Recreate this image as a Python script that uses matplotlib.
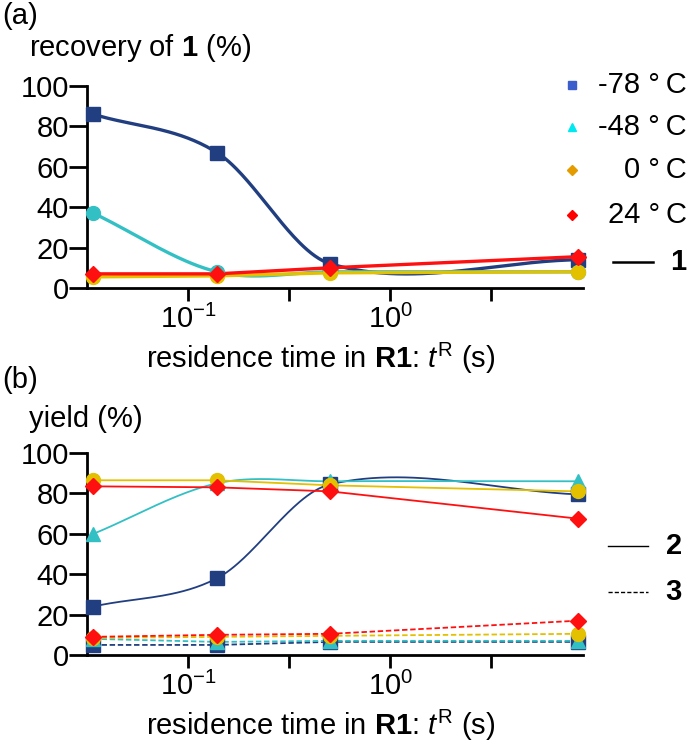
import numpy as np
import matplotlib.pyplot as plt
from matplotlib.lines import Line2D

plt.rcParams['font.family'] = ['Liberation Sans', 'DejaVu Sans']
plt.rcParams['mathtext.fontset'] = 'custom'
plt.rcParams['mathtext.rm'] = 'Liberation Sans'
plt.rcParams['mathtext.it'] = 'Liberation Sans:italic'
plt.rcParams['mathtext.bf'] = 'Liberation Sans:bold'

# residence times (s)
t_res = [0.034, 0.139, 0.505, 8.5]

temps = ['-78 °\u2009C', '-48 °\u2009C', '0 °\u2009C', '24 °\u2009C']
colors = ['#213f80', '#33c0c4', '#e3c000', '#ff1010']
legend_colors = ['#3a5fcd', '#00e8f0', '#e39b00', '#ff0000']

# (a) recovery of 1 (%)
rec_m78 = [86, 67, 12, 14]
rec_m48 = [37, 8, 8, 8]
rec_0 = [5.5, 6, 7.5, 8]
rec_24 = [7, 7, 10, 15.5]

# (b) yield of 2 (%)
y2_m78 = [24, 38, 84.5, 79.5]
y2_m48 = [60, 85, 86, 86]
y2_0 = [86.5, 86.5, 84, 81]
y2_24 = [83.5, 83, 81, 67.5]

# (b) yield of 3 (%)
y3_m78 = [5, 5, 6.5, 6.5]
y3_m48 = [8, 6.5, 7, 7]
y3_0 = [8.5, 9, 9.5, 10.5]
y3_24 = [9, 10, 10.5, 17]


def smooth(x, y, n=60):
    # cubic Hermite (Catmull-Rom style) curve through the points, in log10(x)
    lx = np.log10(x)
    y = np.asarray(y, float)
    k = len(lx)
    m = np.empty(k)
    m[0] = (y[1] - y[0]) / (lx[1] - lx[0])
    m[-1] = (y[-1] - y[-2]) / (lx[-1] - lx[-2])
    for i in range(1, k - 1):
        m[i] = (y[i + 1] - y[i - 1]) / (lx[i + 1] - lx[i - 1])
    xs_all, ys_all = [], []
    for i in range(k - 1):
        h = lx[i + 1] - lx[i]
        s = np.linspace(0, 1, n)
        h00 = 2 * s ** 3 - 3 * s ** 2 + 1
        h10 = s ** 3 - 2 * s ** 2 + s
        h01 = -2 * s ** 3 + 3 * s ** 2
        h11 = s ** 3 - s ** 2
        xs_all.append(lx[i] + s * h)
        ys_all.append(h00 * y[i] + h10 * h * m[i] + h01 * y[i + 1] + h11 * h * m[i + 1])
    return 10 ** np.concatenate(xs_all), np.concatenate(ys_all)


fig = plt.figure(figsize=(6.91, 7.43), dpi=100)
ax1 = fig.add_axes([0.126, 0.6124, 0.718, 0.2719])
ax2 = fig.add_axes([0.126, 0.1184, 0.718, 0.2719])

fs = 21

for ax in (ax1, ax2):
    ax.set_xscale('log')
    ax.set_xlim(10 ** -1.5, 10 ** 0.955)
    ax.set_ylim(0, 100)
    ax.spines['top'].set_visible(False)
    ax.spines['right'].set_visible(False)
    ax.spines['left'].set_linewidth(2)
    ax.spines['bottom'].set_linewidth(2)
    ax.set_xticks([10 ** -1, 10 ** -0.5, 1, 10 ** 0.5])
    ax.set_xticklabels([r'$10^{-1}$', '', r'$10^{0}$', ''])
    ax.xaxis.set_minor_locator(plt.NullLocator())
    ax.set_yticks([0, 20, 40, 60, 80, 100])
    ax.tick_params(axis='y', length=13, width=2, labelsize=fs, pad=0)
    ax.tick_params(axis='x', length=9, width=2, labelsize=fs, pad=3)
    ax.set_xlabel(r'residence time in $\mathbf{R1}$: $\mathit{t}^{\mathrm{R}}$ (s)', fontsize=fs, labelpad=0)
    ax.xaxis.set_label_coords(0.47, -0.26)

# panel (a)
series_a = [(rec_m78, 's', True), (rec_m48, 'o', True), (rec_0, 'o', False), (rec_24, 'D', False)]
for (vals, mk, sm), c in zip(series_a, colors):
    if sm:
        xs, ys = smooth(t_res, vals)
        ax1.plot(xs, ys, color=c, lw=2.4, clip_on=False)
    else:
        ax1.plot(t_res, vals, color=c, lw=2.4, clip_on=False)
    ax1.plot(t_res, vals, ls='none', marker=mk, ms=10 if mk != 'D' else 8.5,
             color=c, clip_on=False, zorder=5)

# panel (b)
series_b = [(y2_m78, y3_m78, 's', True), (y2_m48, y3_m48, '^', True),
            (y2_0, y3_0, 'o', False), (y2_24, y3_24, 'D', False)]
for (v2, v3, mk, sm), c in zip(series_b, colors):
    if sm:
        xs, ys = smooth(t_res, v2)
        ax2.plot(xs, ys, color=c, lw=1.3, clip_on=False)
    else:
        ax2.plot(t_res, v2, color=c, lw=1.3, clip_on=False)
    ax2.plot(t_res, v3, color=c, lw=1.3, ls=(0, (3, 1.5)), clip_on=False)
    ms = 10 if mk != 'D' else 8.5
    ax2.plot(t_res, v2, ls='none', marker=mk, ms=ms, color=c, clip_on=False, zorder=5)
    ax2.plot(t_res, v3, ls='none', marker=mk, ms=ms, color=c, clip_on=False, zorder=5)

W, H = 691, 743


def fx(p):
    return p / W


def fy(p):
    return 1 - p / H


# panel labels and y titles
fig.text(fx(2), fy(24), '(a)', fontsize=fs, va='baseline', ha='left')
fig.text(fx(29), fy(56), r'recovery of $\mathbf{1}$ (%)', fontsize=fs, va='baseline', ha='left')
fig.text(fx(2), fy(388), '(b)', fontsize=fs, va='baseline', ha='left')
fig.text(fx(29), fy(427), 'yield (%)', fontsize=fs, va='baseline', ha='left')

# legend (a)
leg_markers = ['s', '^', 'D', 'D']
leg_y = [85, 127, 170, 215]
for lab, mk, c, yy in zip(temps, leg_markers, legend_colors, leg_y):
    fig.add_artist(Line2D([fx(572)], [fy(yy)], marker=mk, ms=6 if mk != 'D' else 5.5,
                          color=c, ls='none', transform=fig.transFigure))
    fig.text(fx(687), fy(yy), lab, fontsize=fs, va='center', ha='right')

fig.add_artist(Line2D([fx(613), fx(653)], [fy(262), fy(262)], color='black', lw=1.8,
                      transform=fig.transFigure))
fig.text(fx(686), fy(262), '1', fontsize=fs, fontweight='bold', va='center', ha='right')

# legend (b)
fig.add_artist(Line2D([fx(608), fx(648)], [fy(546), fy(546)], color='black', lw=1,
                      transform=fig.transFigure))
fig.text(fx(682), fy(546), '2', fontsize=fs, fontweight='bold', va='center', ha='right')
fig.add_artist(Line2D([fx(608), fx(648)], [fy(592), fy(592)], color='black', lw=1,
                      ls=(0, (3, 1.5)), transform=fig.transFigure))
fig.text(fx(682), fy(592), '3', fontsize=fs, fontweight='bold', va='center', ha='right')

fig.savefig('out.png', dpi=100)
